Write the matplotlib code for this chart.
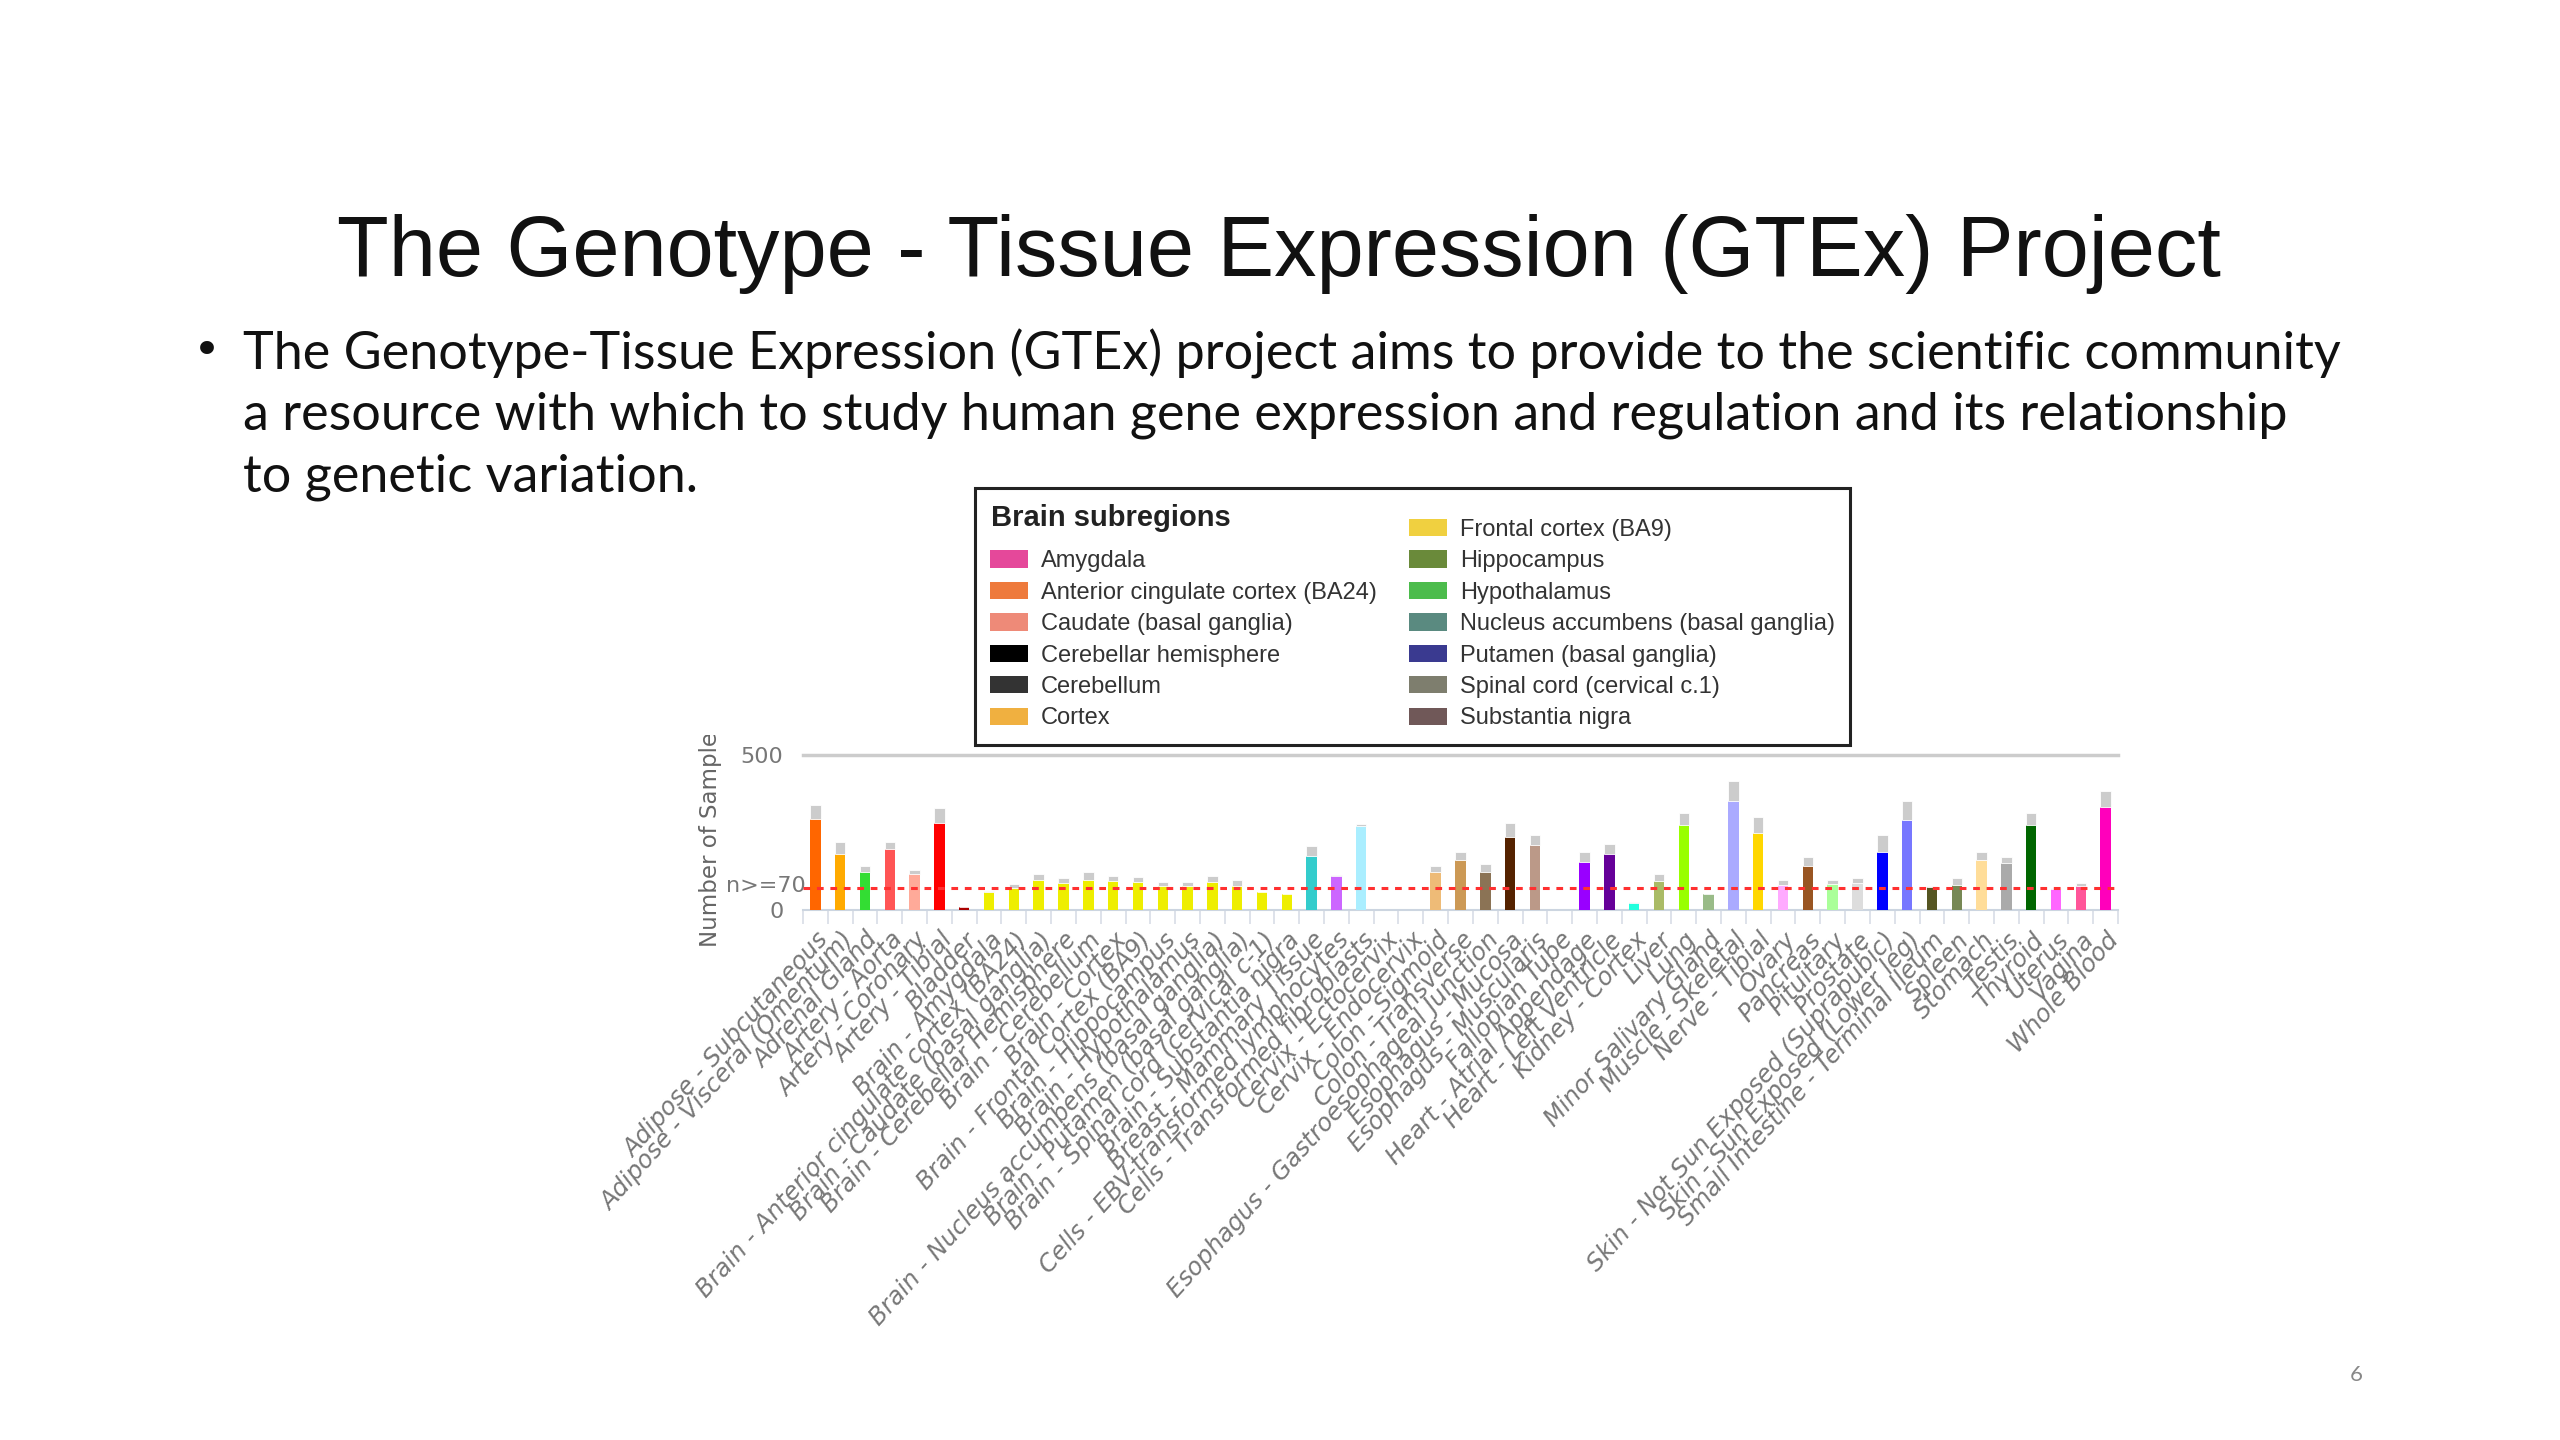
import matplotlib
matplotlib.use("Agg")
import matplotlib.pyplot as plt
import numpy as np
from matplotlib.patches import Patch
from matplotlib.transforms import Bbox

W, H = 2560, 1440

TITLE = "The Genotype - Tissue Expression (GTEx) Project"
BULLET_LINES = [
    "The Genotype-Tissue Expression (GTEx) project aims to provide to the scientific community",
    "a resource with which to study human gene expression and regulation and its relationship",
    "to genetic variation.",
]

tissues = [
    "Adipose - Subcutaneous", "Adipose - Visceral (Omentum)", "Adrenal Gland",
    "Artery - Aorta", "Artery - Coronary", "Artery - Tibial", "Bladder",
    "Brain - Amygdala", "Brain - Anterior cingulate cortex (BA24)",
    "Brain - Caudate (basal ganglia)", "Brain - Cerebellar Hemisphere",
    "Brain - Cerebellum", "Brain - Cortex", "Brain - Frontal Cortex (BA9)",
    "Brain - Hippocampus", "Brain - Hypothalamus",
    "Brain - Nucleus accumbens (basal ganglia)", "Brain - Putamen (basal ganglia)",
    "Brain - Spinal cord (cervical c-1)", "Brain - Substantia nigra",
    "Breast - Mammary Tissue", "Cells - EBV-transformed lymphocytes",
    "Cells - Transformed fibroblasts", "Cervix - Ectocervix", "Cervix - Endocervix",
    "Colon - Sigmoid", "Colon - Transverse", "Esophagus - Gastroesophageal Junction",
    "Esophagus - Mucosa", "Esophagus - Muscularis", "Fallopian Tube",
    "Heart - Atrial Appendage", "Heart - Left Ventricle", "Kidney - Cortex",
    "Liver", "Lung", "Minor Salivary Gland", "Muscle - Skeletal", "Nerve - Tibial",
    "Ovary", "Pancreas", "Pituitary", "Prostate",
    "Skin - Not Sun Exposed (Suprapubic)", "Skin - Sun Exposed (Lower leg)",
    "Small Intestine - Terminal Ileum", "Spleen", "Stomach", "Testis", "Thyroid",
    "Uterus", "Vagina", "Whole Blood",
]

# samples with expression data (coloured) and all samples (grey top)
expr_samples = [294, 181, 123, 196, 116, 281, 11,
                58, 70, 98, 88, 98, 93, 91, 77, 77, 91, 77, 57, 51,
                175, 109, 270, 0, 0, 122, 162, 122, 234, 211, 0,
                154, 180, 24, 95, 273, 51, 352, 248, 82, 141, 85, 88,
                187, 291, 75, 82, 162, 153, 273, 69, 77, 333]
all_samples = [338, 220, 143, 220, 130, 328, 11,
               60, 85, 116, 104, 122, 110, 106, 91, 91, 110, 97, 57, 51,
               206, 112, 278, 0, 0, 143, 186, 147, 280, 241, 0,
               187, 214, 26, 116, 312, 51, 415, 299, 98, 170, 98, 104,
               241, 352, 77, 104, 187, 170, 312, 70, 88, 384]

tissue_colors = [
    "#FF6600", "#FFAA00", "#33DD33", "#FF5555", "#FFAA99", "#FF0000", "#AA0000",
    "#EEEE00", "#EEEE00", "#EEEE00", "#EEEE00", "#EEEE00", "#EEEE00", "#EEEE00",
    "#EEEE00", "#EEEE00", "#EEEE00", "#EEEE00", "#EEEE00", "#EEEE00",
    "#33CCCC", "#CC66FF", "#AAEEFF", "#FFCCCC", "#CCAADD", "#EEBB77", "#CC9955",
    "#8B7355", "#552200", "#BB9988", "#FFCCCC", "#9900FF", "#660099", "#22FFDD",
    "#AABB66", "#99FF00", "#99BB88", "#AAAAFF", "#FFD700", "#FFAAFF", "#995522",
    "#AAFF99", "#DDDDDD", "#0000FF", "#7777FF", "#555522", "#778855", "#FFDD99",
    "#AAAAAA", "#006600", "#FF66FF", "#FF5599", "#FF00BB",
]

THRESHOLD = 70

subregions = [
    "Amygdala", "Anterior cingulate cortex (BA24)", "Caudate (basal ganglia)",
    "Cerebellar hemisphere", "Cerebellum", "Cortex",
    "Frontal cortex (BA9)", "Hippocampus", "Hypothalamus",
    "Nucleus accumbens (basal ganglia)", "Putamen (basal ganglia)",
    "Spinal cord (cervical c.1)", "Substantia nigra",
]
subregion_colors = [
    "#E5489A", "#EE7A3C", "#EE8A78", "#000000", "#333333", "#F0B040",
    "#F0D040", "#6A8A3A", "#4CBC4C", "#5A8A80", "#3A3A90", "#7E7E6E", "#705858",
]

GREY_TXT = "#777777"


def fx(px):
    return px / W


def fy(py):
    return 1 - py / H


fig = plt.figure(figsize=(25.6, 14.4), dpi=100)
fig.patch.set_facecolor("white")

# slide text
fig.text(fx(1279), fy(254), TITLE, ha="center", va="center",
         fontsize=61, family="Liberation Sans", color="#111111")
fig.text(fx(193), fy(353), "\u2022", ha="left", va="center",
         fontsize=34, family="DejaVu Sans", color="#111111")
for i, line in enumerate(BULLET_LINES):
    fig.text(fx(243), fy(354 + 61.5 * i), line, ha="left", va="center",
             fontsize=37.5, family="Lato", color="#111111")
fig.text(fx(2356), fy(1375), "6", ha="center", va="center",
         fontsize=16, family="Lato", color="#888888")

# bar chart
ax = fig.add_axes([fx(803), fy(910), fx(2118) - fx(803), (910 - 755) / H])
x = np.arange(len(tissues))
expr = np.array(expr_samples)
tot = np.array(all_samples)
ax.bar(x, expr, width=0.42, color=tissue_colors, zorder=3)
ax.bar(x, tot - expr, bottom=expr, width=0.42, color="#CCCCCC",
       edgecolor="white", linewidth=0.6, zorder=3)
ax.axhline(THRESHOLD, color="#FF3030", linestyle=(0, (2.2, 2.2)),
           linewidth=2.2, zorder=4)
ax.axhline(500, color="#CCCCCC", linewidth=2.5, zorder=1, clip_on=False)

ax.set_xlim(-0.5, len(tissues) - 0.5)
ax.set_ylim(0, 500)
for s in ["top", "right", "left"]:
    ax.spines[s].set_visible(False)
ax.spines["bottom"].set_color("#CCD5E0")
ax.spines["bottom"].set_linewidth(1.5)

ax.set_yticks([0, 500])
ax.set_yticklabels(["0", "500"])
ax.tick_params(axis="y", length=0, pad=14, labelsize=16, labelcolor=GREY_TXT)
ax.text(0.002, THRESHOLD + 8, "n>=70", transform=ax.get_yaxis_transform(),
        ha="right", va="center", fontsize=16, color=GREY_TXT, clip_on=False)

ax.set_xticks(x)
ax.set_xticklabels(tissues, rotation=48, ha="right", rotation_mode="anchor",
                   fontsize=17.5, style="italic", color=GREY_TXT)
ax.tick_params(axis="x", which="major", length=0, pad=13)
ax.set_xticks(np.arange(-0.5, len(tissues)), minor=True)
ax.tick_params(axis="x", which="minor", length=10, width=1.2, color="#D8DDE6")

ylab = fig.text(fx(710), fy(947), "Number of Samples", rotation=90,
                ha="center", va="bottom", fontsize=16.5, color="#666666")
ylab.set_clip_box(Bbox.from_extents(0, 0, W, H - 735))
ylab.set_clip_on(True)

# legend: first slot left empty, the heading sits in it
handles = [Patch(facecolor="none", edgecolor="none")]
labels = [" "]
for name, col in zip(subregions, subregion_colors):
    handles.append(Patch(facecolor=col, edgecolor="none"))
    labels.append(name)
leg = fig.legend(handles, labels, ncol=2, loc="upper left",
                 bbox_to_anchor=(fx(975), fy(488)),
                 prop={"family": "Liberation Sans", "size": 17},
                 title=" ", title_fontsize=5,
                 frameon=True, fancybox=False, edgecolor="#222222",
                 framealpha=1, handlelength=1.6, handleheight=0.75,
                 handletextpad=0.55, labelspacing=0.4, columnspacing=1.35,
                 borderpad=0.65, borderaxespad=0)
leg.get_frame().set_linewidth(2.2)
for t in leg.get_texts():
    t.set_color("#333333")
fig.text(fx(991), fy(518), "Brain subregions", ha="left", va="center",
         fontsize=21, fontweight="bold", family="Liberation Sans",
         color="#222222", zorder=10)

fig.savefig("out.png", dpi=100)
